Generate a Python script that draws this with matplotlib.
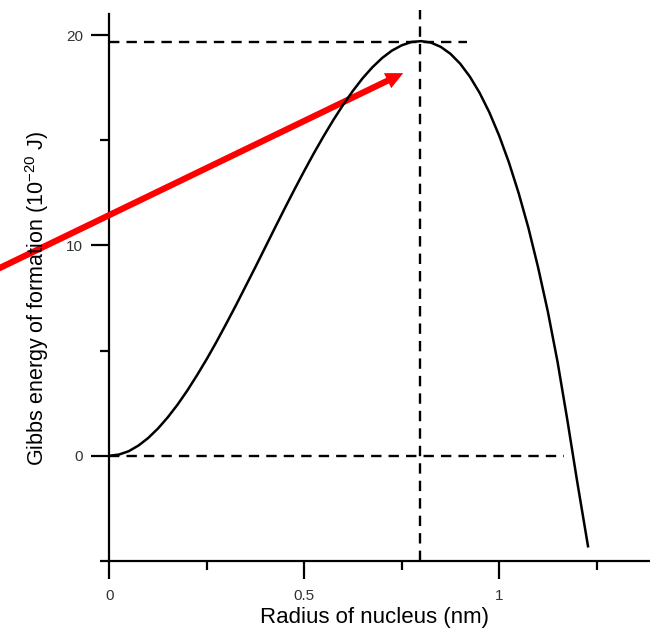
import matplotlib
matplotlib.use('Agg')
import matplotlib.pyplot as plt

plt.rcParams['font.family'] = ['Liberation Sans', 'DejaVu Sans']
plt.rcParams['mathtext.fontset'] = 'custom'
plt.rcParams['mathtext.rm'] = 'Liberation Sans'
plt.rcParams['mathtext.it'] = 'Liberation Sans:italic'

# ---- data ----
radius = [0.000, 0.025, 0.050, 0.075, 0.100, 0.125, 0.150, 0.175, 0.200, 0.225,
          0.250, 0.275, 0.300, 0.325, 0.350, 0.375, 0.400, 0.425, 0.450, 0.475,
          0.500, 0.525, 0.550, 0.575, 0.600, 0.625, 0.650, 0.675, 0.700, 0.725,
          0.750, 0.775, 0.800, 0.825, 0.850, 0.875, 0.900, 0.925, 0.950, 0.975,
          1.000, 1.025, 1.050, 1.075, 1.100, 1.125, 1.150, 1.175, 1.200, 1.228]
energy = [0.00, 0.06, 0.22, 0.49, 0.85, 1.30, 1.83, 2.43, 3.10, 3.83,
          4.60, 5.42, 6.28, 7.16, 8.07, 8.98, 9.91, 10.84, 11.76, 12.66,
          13.54, 14.39, 15.20, 15.97, 16.69, 17.35, 17.95, 18.47, 18.91, 19.26,
          19.51, 19.67, 19.71, 19.64, 19.44, 19.11, 18.64, 18.02, 17.25, 16.32,
          15.22, 13.95, 12.49, 10.84, 8.95, 6.85, 4.45, 1.70, -1.20, -4.30]

critical_radius = 0.797
peak_energy = 19.65

x_major = [0, 0.5, 1]
x_major_labels = ['0', '0.5', '1']
x_minor = [0.25, 0.75, 1.25]
y_major = [0, 10, 20]
y_major_labels = ['0', '10', '20']
y_minor = [-5, 5, 15]

xlabel = 'Radius of nucleus (nm)'
ylabel = r'Gibbs energy of formation (10$^{\mathregular{-20}}$ J)'

# ---- figure ----
W, H = 650, 630
fig = plt.figure(figsize=(W / 100, H / 100), dpi=100)
ax = fig.add_axes([109.3 / W, 69 / H, (W - 109.3) / W, 547 / H])

dash = (0, (4.4, 3.0))
ax.plot(radius, energy, color='black', lw=1.8, zorder=5)
ax.plot([0, 0.917], [peak_energy, peak_energy], color='black', lw=1.7,
        ls=dash, zorder=3)
ax.plot([0, 1.166], [0, 0], color='black', lw=1.7, ls=dash, zorder=3)
ax.plot([critical_radius, critical_radius], [-5, 21.2], color='black',
        lw=1.7, ls=dash, zorder=3, clip_on=False)

ax.annotate('', xy=(0.754, 18.19), xytext=(-0.35, 8.31),
            xycoords='data', textcoords='data', annotation_clip=False,
            arrowprops=dict(arrowstyle='simple,head_length=1.25,head_width=1.2,tail_width=0.45',
                            mutation_scale=10, color='red', lw=0,
                            shrinkA=0, shrinkB=0),
            zorder=4)

ax.set_xlim(0, 1.387)
ax.set_ylim(-5, 21)

for s in ['top', 'right']:
    ax.spines[s].set_visible(False)
for s in ['left', 'bottom']:
    ax.spines[s].set_linewidth(1.6)

ax.set_xticks(x_major)
ax.set_xticklabels(x_major_labels)
ax.set_xticks(x_minor, minor=True)
ax.set_yticks(y_major)
ax.set_yticklabels(y_major_labels)
ax.set_yticks(y_minor, minor=True)

ax.tick_params(which='major', length=13, width=1.6, direction='out',
               labelsize=11, labelcolor='#333333')
ax.tick_params(which='minor', length=6.5, width=1.6, direction='out')
ax.tick_params(axis='x', which='major', pad=7)
ax.tick_params(axis='y', which='major', pad=6)

fig.text(374 / W, 1 - 618 / H, xlabel, fontsize=16, ha='center', va='center')
fig.text(37 / W, 1 - 298 / H, ylabel, fontsize=15.5, ha='center', va='center',
         rotation=90)

fig.savefig('out.png', dpi=100)
